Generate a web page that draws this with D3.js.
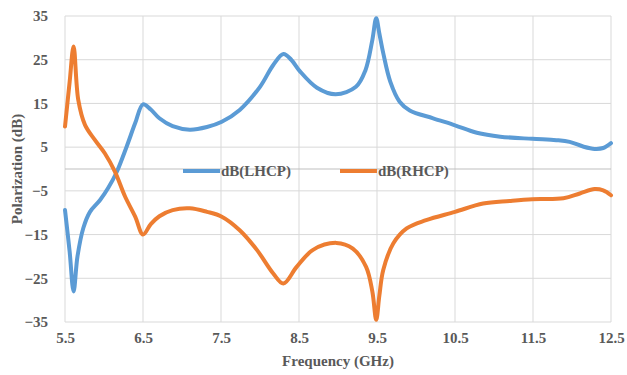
<!DOCTYPE html>
<html>
<head>
<meta charset="utf-8">
<script src="https://cdn.jsdelivr.net/npm/d3@7"></script>
<style>
  body { margin: 0; background: #fff; }
</style>
</head>
<body>
<svg id="chart" width="627" height="375"></svg>
<script>
// frequency (GHz) and polarization (dB)
var lhcpFreq = [5.5, 5.56, 5.61, 5.66, 5.735, 5.82, 5.95, 6.055, 6.16, 6.29, 6.4, 6.5, 6.6, 6.71, 6.88, 7.1, 7.32, 7.51, 7.74, 8.0, 8.17, 8.3, 8.4, 8.51, 8.73, 8.97, 9.23, 9.35, 9.44, 9.49, 9.53, 9.58, 9.67, 9.79, 9.92, 10.22, 10.5, 10.78, 11.08, 11.49, 11.8, 11.97, 12.15, 12.29, 12.4, 12.5];
var lhcpVal  = [-9.4, -19, -28, -20, -13.5, -9.8, -7.1, -4.3, -0.8, 5.1, 10.5, 14.8, 13.6, 11.6, 9.8, 9.0, 9.6, 10.8, 13.5, 18.8, 23.8, 26.3, 25.0, 22.4, 18.6, 17.1, 18.8, 22.5, 29.5, 34.5, 31, 26.5, 20.0, 15.4, 13.4, 11.6, 10.0, 8.3, 7.4, 6.9, 6.6, 6.2, 5.1, 4.6, 4.8, 5.9];

var rhcpFreq = [5.5, 5.56, 5.61, 5.67, 5.756, 5.885, 6.01, 6.14, 6.27, 6.4, 6.5, 6.6, 6.71, 6.88, 7.1, 7.32, 7.51, 7.74, 7.96, 8.17, 8.3, 8.47, 8.68, 8.98, 9.19, 9.36, 9.44, 9.49, 9.53, 9.58, 9.71, 9.88, 10.13, 10.5, 10.86, 11.2, 11.49, 11.89, 12.1, 12.29, 12.4, 12.5];
var rhcpVal  = [9.7, 20, 28.0, 15.8, 10.1, 6.6, 3.6, -0.6, -6.3, -10.9, -15.0, -12.6, -10.8, -9.4, -9.0, -9.8, -10.9, -14.0, -18.5, -23.9, -26.2, -22.4, -18.5, -16.9, -18.2, -22.4, -28, -34.5, -29, -23.1, -17.0, -13.6, -11.7, -9.8, -7.9, -7.3, -6.9, -6.7, -5.6, -4.6, -4.9, -6.0];

var xTicks = [5.5, 6.5, 7.5, 8.5, 9.5, 10.5, 11.5, 12.5];
var yTicks = [35, 25, 15, 5, -5, -15, -25, -35];

var seriesNames = ["dB(LHCP)", "dB(RHCP)"];
var seriesColors = ["#5b9bd5", "#ed7d31"];

var FONT = "'Liberation Serif', 'DejaVu Serif', serif";
var TEXTCOL = "#595959";

// serif bold gray text, set inline so nothing overrides it
function styleText(sel){
  sel.style("font-family", FONT)
     .style("font-size", "15px")
     .style("font-weight", "bold")
     .style("fill", TEXTCOL);
}

var svg = d3.select("#chart");
var plotLeft = 65, plotRight = 611, plotTop = 16, plotBottom = 322;

var xScale = d3.scaleLinear().domain([5.5, 12.5]).range([plotLeft, plotRight]);
var yScale = d3.scaleLinear().domain([-35, 35]).range([plotBottom, plotTop]);

// gridlines
svg.append("g").selectAll("line").data(yTicks).enter().append("line")
  .attr("x1", plotLeft).attr("x2", plotRight)
  .attr("y1", function(d){ return yScale(d); }).attr("y2", function(d){ return yScale(d); })
  .attr("stroke", "#d9d9d9").attr("stroke-width", 1);
svg.append("g").selectAll("line").data(xTicks).enter().append("line")
  .attr("y1", plotTop).attr("y2", plotBottom)
  .attr("x1", function(d){ return xScale(d); }).attr("x2", function(d){ return xScale(d); })
  .attr("stroke", "#d9d9d9").attr("stroke-width", 1);
// horizontal axis line crosses at 0
svg.append("line")
  .attr("x1", plotLeft).attr("x2", plotRight)
  .attr("y1", yScale(0)).attr("y2", yScale(0))
  .attr("stroke", "#bfbfbf").attr("stroke-width", 1);

// axes (labels only)
var yAxis = d3.axisLeft(yScale).tickValues(yTicks).tickSize(0).tickPadding(17);
var xAxis = d3.axisBottom(xScale).tickValues(xTicks).tickSize(0).tickPadding(10)
  .tickFormat(d3.format(".1f"));

var gy = svg.append("g").attr("transform", "translate(" + plotLeft + ",0)").call(yAxis);
gy.select(".domain").remove();
styleText(gy.selectAll("text"));

var gx = svg.append("g").attr("transform", "translate(0," + plotBottom + ")").call(xAxis);
gx.select(".domain").remove();
styleText(gx.selectAll("text"));

svg.append("text")
  .attr("x", (plotLeft + plotRight) / 2).attr("y", 366)
  .attr("text-anchor", "middle")
  .call(styleText)
  .text("Frequency (GHz)");
svg.append("text")
  .attr("transform", "translate(22," + ((plotTop + plotBottom) / 2) + ") rotate(-90)")
  .attr("text-anchor", "middle")
  .call(styleText)
  .text("Polarization (dB)");

// lines
var line = d3.line()
  .x(function(d){ return xScale(d[0]); })
  .y(function(d){ return yScale(d[1]); })
  .curve(d3.curveCatmullRom.alpha(0.5));

var series = [
  d3.zip(lhcpFreq, lhcpVal),
  d3.zip(rhcpFreq, rhcpVal)
];

svg.append("g").selectAll("path").data(series).enter().append("path")
  .attr("d", line)
  .attr("fill", "none")
  .attr("stroke", function(d, i){ return seriesColors[i]; })
  .attr("stroke-width", 4)
  .attr("stroke-linejoin", "round")
  .attr("stroke-linecap", "round");

// legend
var legendX = [183, 340];
var legend = svg.append("g").selectAll("g").data(seriesNames).enter().append("g")
  .attr("transform", function(d, i){ return "translate(" + legendX[i] + ",171)"; });
legend.append("line")
  .attr("x1", 0).attr("x2", 37).attr("y1", 0).attr("y2", 0)
  .attr("stroke", function(d, i){ return seriesColors[i]; })
  .attr("stroke-width", 4);
legend.append("text")
  .attr("x", 38).attr("y", 5)
  .call(styleText)
  .text(function(d){ return d; });
</script>
</body>
</html>
